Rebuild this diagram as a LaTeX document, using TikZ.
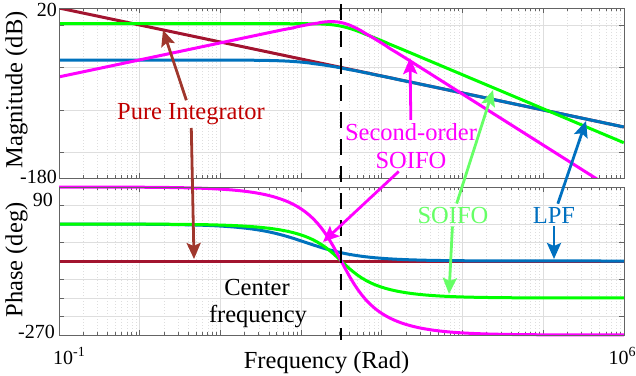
\documentclass[tikz,border=0pt]{standalone}
\usepackage{fontspec}
\setmainfont{Liberation Serif}
\usetikzlibrary{arrows.meta}
\definecolor{intcurve}{RGB}{162,20,47}
\definecolor{intarrow}{RGB}{160,55,45}
\definecolor{inttext}{RGB}{192,0,0}
\definecolor{lpfcurve}{RGB}{0,114,189}
\definecolor{lpftext}{RGB}{0,112,192}
\definecolor{soifocurve}{RGB}{0,255,0}
\definecolor{soifotext}{RGB}{102,255,102}
\definecolor{secondorder}{RGB}{255,0,255}
\definecolor{framegray}{RGB}{100,100,100}
\definecolor{gridgray}{RGB}{222,222,222}
\tikzset{
  bodeline/.style={line width=3pt},
  pointer/.style={line width=2.8pt,-{Stealth[length=16pt,width=14pt,inset=3pt]}},
  curvename/.style={font=\fontsize{24.5}{28}\selectfont,inner sep=3pt},
  ticklabel/.style={font=\fontsize{20}{22}\selectfont,inner sep=1pt},
  axisframe/.style={framegray,line width=0.9pt},
  majorgrid/.style={gridgray,line width=0.8pt},
  minorgrid/.style={gridgray,line width=0.6pt,dash pattern=on 1pt off 2pt},
}
\begin{document}
\begin{tikzpicture}[x=1pt,y=-1pt,
  declare function={
    sd(\t)=exp(2.302585*\t)-exp(-2.302585*\t);
    th(\t)=90+atan(sd(\t)/1.414);
    dbg(\t)=1.6-29.54-20*\t-20*log10(veclen(sd(\t)/30,1.414/30));
    dbm(\t)=8.9-59.08-20*\t-40*log10(veclen(sd(\t)/30,1.414/30));
    dbb(\l)=-41.2-40-20*log10(veclen(0.01,exp(2.302585*(\l-2.06))/100));
    phb(\l)=-atan(exp(2.302585*(\l-2.06)));
  }]
\useasboundingbox (0,0) rectangle (636,375);

% grid and ticks
\foreach \d in {-1,...,5}{
  \foreach \m in {2,...,9}{
    \pgfmathsetmacro\xm{139.7+80.7*(\d+log10(\m))}
    \draw[minorgrid] (\xm,8) -- (\xm,178) (\xm,187) -- (\xm,335);
    \draw[axisframe] (\xm,8) -- ++(0,3) (\xm,178) -- ++(0,-3)
      (\xm,187) -- ++(0,3) (\xm,335) -- ++(0,-3);
  }
}
\foreach \d in {0,...,5}{
  \pgfmathsetmacro\xm{139.7+80.7*\d}
  \draw[majorgrid] (\xm,8) -- (\xm,178) (\xm,187) -- (\xm,335);
  \draw[axisframe] (\xm,8) -- ++(0,5) (\xm,178) -- ++(0,-5)
    (\xm,187) -- ++(0,5) (\xm,335) -- ++(0,-5);
}
\foreach \y in {25,67.5,110,152.5,205.5,224,242.5,261,279.5,298,316.5}{
  \draw[majorgrid] (59,\y) -- (624,\y);
  \draw[axisframe] (59,\y) -- ++(5,0) (624,\y) -- ++(-5,0);
}

% magnitude
\begin{scope}[shift={(139.7,25)},x=80.7pt,y=0.85pt]
  \clip (-1,20) rectangle (6,-180);
  \draw[bodeline,intcurve] (-1,20) -- (6,-120);
  \draw[bodeline,lpfcurve] plot[domain=-1:6,samples=141] (\x,{dbb(\x)});
  \draw[bodeline,soifocurve] plot[domain=-1:6,samples=141] (\x,{dbg(\x-2.497)});
  \draw[bodeline,secondorder] plot[domain=-1:6,samples=141] (\x,{dbm(\x-2.497)});
\end{scope}

% phase
\begin{scope}[shift={(139.7,224)},x=80.7pt,y=0.4111pt]
  \draw[bodeline,intcurve] (-1,-90) -- (6,-90);
  \draw[bodeline,lpfcurve] plot[domain=-1:6,samples=141] (\x,{phb(\x)});
  \draw[bodeline,soifocurve] plot[domain=-1:6,samples=141] (\x,{-th(\x-2.497)});
  \draw[bodeline,secondorder] plot[domain=-1:6,samples=141] (\x,{90-2*th(\x-2.497)});
\end{scope}

\draw[axisframe] (59,8) rectangle (624,178);
\draw[axisframe] (59,187) rectangle (624,335);
\draw[line width=2.8pt,dash pattern=on 16pt off 11pt] (341,4) -- (341,340);

% axis text
\node[ticklabel,anchor=base east] (m20) at (58,16.7) {20};
\node[ticklabel,anchor=base east] (m180) at (58,183) {-180};
\node[ticklabel,anchor=base east] (p90) at (54,206) {90};
\node[ticklabel,anchor=base east] (p270) at (56,338) {-270};
\node[ticklabel,anchor=base west] (f01) at (52,364.5) {10\textsuperscript{-1}};
\node[ticklabel,anchor=base west] (f6) at (607.5,364.5) {10\textsuperscript{6}};
\node[curvename,inner sep=0pt,anchor=base] (fq) at (326.5,368.5) {Frequency (Rad)};
\node[curvename,inner sep=0pt,rotate=90] (mg) at (16.5,90) {Magnitude (dB)};
\node[curvename,inner sep=0pt,rotate=90] (ph) at (16.5,260) {Phase (deg)};

% curve names
\node[curvename,anchor=base,text=inttext] (pi) at (191,119.5) {Pure Integrator};
\node[curvename,anchor=base,text=secondorder] (so1) at (411,140) {Second-order};
\node[curvename,anchor=base,text=secondorder] (so2) at (411,168) {SOIFO};
\node[curvename,anchor=base,text=soifotext] (sf) at (453,223) {SOIFO};
\node[curvename,anchor=base,text=lpftext] (lp) at (554,223) {LPF};
\node[curvename,anchor=base] (cf1) at (257,295) {Center};
\node[curvename,anchor=base] (cf2) at (258,322) {frequency};

% pointers
\coordinate (pimag) at (163,30);
\coordinate (piph) at (194,259);
\coordinate (somag) at (410,58);
\coordinate (soph) at (323,242);
\coordinate (sfmag) at (493,90);
\coordinate (sfph) at (449,294);
\coordinate (lpmag) at (586,121);
\coordinate (lpph) at (554,259);
\draw[pointer,intarrow] (pi) -- (pimag);
\draw[pointer,intarrow] (pi) -- (piph);
\draw[pointer,secondorder] (so1) -- (somag);
\draw[pointer,secondorder] (so2) -- (soph);
\draw[pointer,soifotext] (sf) -- (sfmag);
\draw[pointer,soifotext] (sf) -- (sfph);
\draw[pointer,lpftext] (lp) -- (lpmag);
\draw[pointer,lpftext] (lp) -- (lpph);
\end{tikzpicture}
\end{document}
